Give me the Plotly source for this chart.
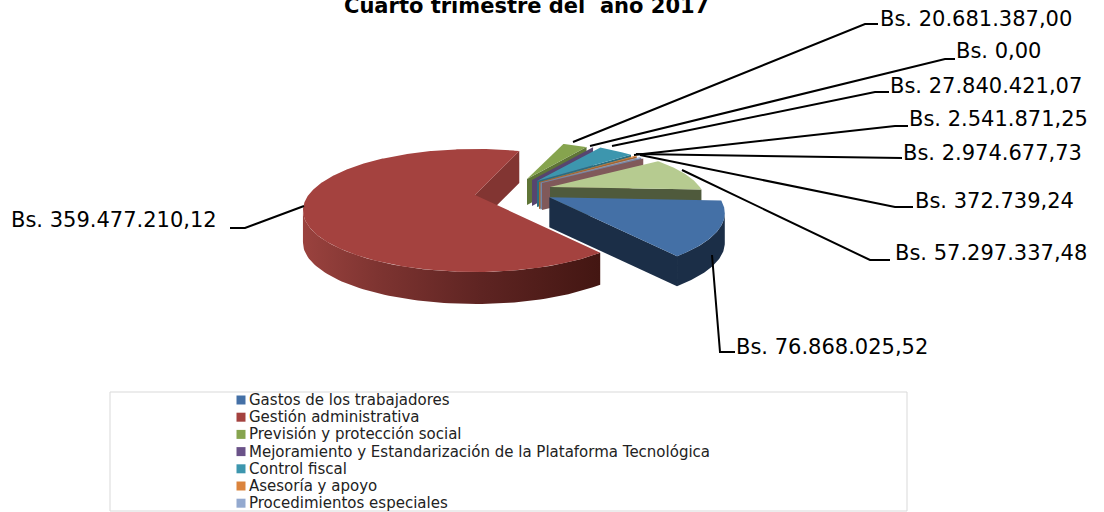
import math
import plotly.graph_objects as go

TITLE = "Cuarto trimestre del  año 2017"
legend_names = ["Gastos de los trabajadores", "Gestión administrativa", "Previsión y protección social",
                "Mejoramiento y Estandarización de la Plataforma Tecnológica", "Control fiscal",
                "Asesoría y apoyo", "Procedimientos especiales"]
values = [76868025.52, 359477210.12, 20681387.00, 0.00, 27840421.07, 2541871.25, 2974677.73, 372739.24, 57297337.48]
value_labels = ["Bs. 76.868.025,52", "Bs. 359.477.210,12", "Bs. 20.681.387,00", "Bs. 0,00", "Bs. 27.840.421,07",
                "Bs. 2.541.871,25", "Bs. 2.974.677,73", "Bs. 372.739,24", "Bs. 57.297.337,48"]

# styling
top_colors = ["#4470A6", "#A4423F", "#86A44E", "#6A5288", "#3D96AE", "#DB843D", "#93A9CF", "#A0605C", "#B6CB90"]
wall_colors = ["#1B2E47", "#823532", "#5F7537", "#57456F", "#2B6E80", "#A8652E", "#7187AA", "#80595A", "#4F5A3C"]
legend_colors = ["#4470A6", "#A4423F", "#86A44E", "#6A5288", "#3D96AE", "#DB843D", "#93A9CF"]

# projection geometry of the exploded 3D pie (pixel axes)
R, B, K = 166.5, 57.6, 0.252
START = 92.6
apex = [(549.3, 197.3), (475, 195), (527, 179), (532, 180), (537, 181), (539, 182), (540.5, 182.5), (542, 183), (550, 187)]
scale = [1.02, 1.0, 0.8, 0.82, 0.84, 0.85, 0.85, 0.85, 0.9]
height = [30, 32, 26, 26, 26, 27, 27, 27, 28]
draw_order = [2, 3, 4, 5, 6, 7, 8, 0, 1]

# label text anchors and leader lines
label_pos = [(737, 347), (12, 220), (881, 19), (957, 51), (891, 86), (910, 119), (904, 153), (916, 201), (896, 253)]
leaders = [
    [(712, 255), (720, 352), (735, 352)],
    [(304, 206), (245, 228), (230, 228)],
    [(573, 142), (865, 24), (878, 24)],
    [(590, 146), (945, 59), (955, 59)],
    [(612, 146), (875, 92), (889, 92)],
    [(634, 155), (895, 126), (908, 126)],
    [(636, 154), (890, 158), (902, 158)],
    [(640, 155), (895, 207), (913, 207)],
    [(682, 170), (870, 260), (890, 260)],
]


def proj(i, deg, dy=0.0):
    t = math.radians(deg)
    c, s = math.sin(t), -math.cos(t)
    w = 1 - K * s
    return apex[i][0] + scale[i] * R * c / w, apex[i][1] + scale[i] * B * s / w + dy


def poly(points, **kw):
    return go.Scatter(x=[p[0] for p in points], y=[p[1] for p in points], mode="lines", fill="toself",
                      hoverinfo="skip", showlegend=False, **kw)


total = sum(values)
angles = []
a = START
for v in values:
    angles.append((a, a + v / total * 360))
    a += v / total * 360

fig = go.Figure()
VIS_A, VIS_B = 104.6, 255.4
for i in draw_order:
    a0, a1 = angles[i]
    h = height[i]
    # radial wall on the clockwise edge
    e = proj(i, a1)
    wall = [apex[i], e, (e[0], e[1] + h), (apex[i][0], apex[i][1] + h)]
    fig.add_trace(poly(wall, line=dict(width=0, color=wall_colors[i]), fillcolor=wall_colors[i]))
    # outer wall
    lo, hi = max(a0, VIS_A), min(a1, VIS_B)
    if hi > lo:
        n = 80
        arc = [lo + (hi - lo) * j / n for j in range(n + 1)]
        pts = [proj(i, d) for d in arc] + [proj(i, d, h) for d in reversed(arc)]
        if i == 1:
            fig.add_trace(go.Scatter(x=[p[0] for p in pts], y=[p[1] for p in pts], mode="lines", fill="toself",
                                     hoverinfo="skip", showlegend=False, line=dict(width=0, color="#6B2B29"),
                                     fillgradient=dict(type="horizontal", colorscale=[[0, "#9A423E"], [0.25, "#7E3431"],
                                                                                      [0.6, "#5E2422"], [1, "#431612"]])))
        else:
            fig.add_trace(poly(pts, line=dict(width=0, color=wall_colors[i]), fillcolor=wall_colors[i]))
    # top face
    n = max(2, int((a1 - a0) * 2))
    pts = [apex[i]] + [proj(i, a0 + (a1 - a0) * j / n) for j in range(n + 1)]
    fig.add_trace(poly(pts, line=dict(width=0, color=top_colors[i]), fillcolor=top_colors[i]))

# leader lines
for seg in leaders:
    fig.add_trace(go.Scatter(x=[p[0] for p in seg], y=[p[1] for p in seg], mode="lines", hoverinfo="skip",
                             showlegend=False, line=dict(color="black", width=2)))

# legend swatches
LEG_X, LEG_Y0, LEG_DY = 241, 400, 17.2
for j, (name, col) in enumerate(zip(legend_names, legend_colors)):
    fig.add_trace(go.Scatter(x=[LEG_X], y=[LEG_Y0 + LEG_DY * j], mode="markers", name=name, hoverinfo="skip",
                             showlegend=False, marker=dict(symbol="square", size=9, color=col)))
    fig.add_annotation(x=250, y=LEG_Y0 + LEG_DY * j, text=name, showarrow=False, xref="x", yref="y",
                       xanchor="left", yanchor="middle", xshift=-3,
                       font=dict(family="DejaVu Sans", size=15, color="#222"))

for txt, (x, y) in zip(value_labels, label_pos):
    fig.add_annotation(x=x, y=y, text=txt, showarrow=False, xref="x", yref="y", xanchor="left", yanchor="middle",
                       xshift=-3, font=dict(family="DejaVu Sans", size=21, color="black"))

fig.add_annotation(x=526, y=6, text=TITLE, showarrow=False, xref="x", yref="y", xanchor="center", yanchor="middle",
                   font=dict(family="DejaVu Sans", size=21, color="black", weight="bold"))

fig.add_shape(type="rect", x0=110, x1=907, y0=392, y1=511, xref="x", yref="y", layer="below",
              line=dict(color="#D9D9D9", width=1))

fig.update_layout(width=1104, height=512, margin=dict(l=0, r=0, t=0, b=0), paper_bgcolor="white", plot_bgcolor="white",
                  showlegend=False,
                  xaxis=dict(range=[0, 1104], visible=False, fixedrange=True),
                  yaxis=dict(range=[512, 0], visible=False, fixedrange=True))

fig.write_html("out.html", config=dict(displayModeBar=False),
               post_script="document.body.style.margin='0';document.body.style.overflow='hidden';")
